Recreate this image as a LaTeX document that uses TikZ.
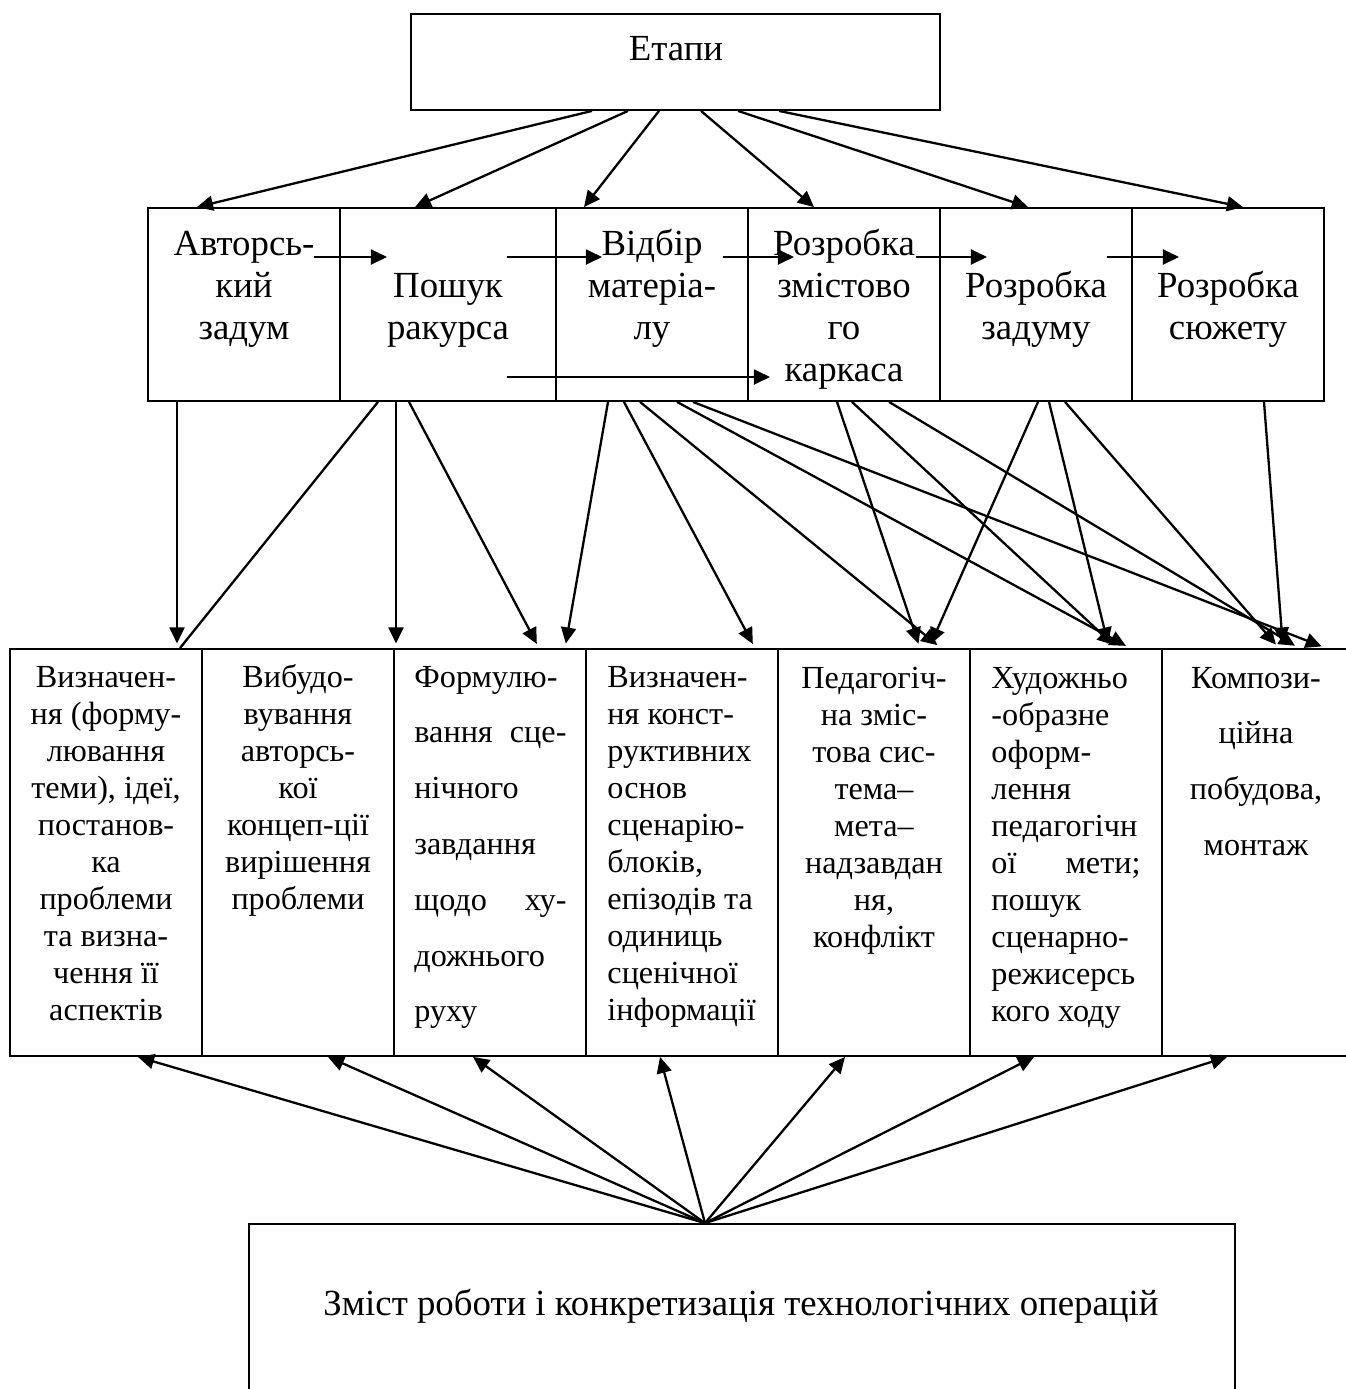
\documentclass[tikz,border=0pt]{standalone}
\usepackage{fontspec}
\setmainfont{Liberation Serif}
\usetikzlibrary{arrows.meta,fit}
\begin{document}
\begin{tikzpicture}[x=0.4348pt,y=-0.4348pt,
  cell/.style={draw,line width=0.8pt,inner sep=0pt},
  arr/.style={line width=1pt,-{Triangle[length=7pt,width=6.5pt]}},
  ln/.style={line width=1pt},
  small/.style={font=\fontsize{14}{16}\selectfont,inner sep=0pt},
  big/.style={font=\fontsize{16}{18}\selectfont,inner sep=0pt}]
\useasboundingbox (0,0) rectangle (1346,1389);
\clip (0,0) rectangle (1346,1389);
\fill[white] (0,0) rectangle (1346,1389);

% ---------- boxes ----------
\node[cell,fit={(411,14)(940,110)}] (etapi) {};
\node[cell,fit={(148,208)(340,401)}] (m1) {};
\node[cell,fit={(340,208)(556,401)}] (m2) {};
\node[cell,fit={(556,208)(748,401)}] (m3) {};
\node[cell,fit={(748,208)(940,401)}] (m4) {};
\node[cell,fit={(940,208)(1132,401)}] (m5) {};
\node[cell,fit={(1132,208)(1324,401)}] (m6) {};
\node[cell,fit={(10,649)(202,1056)}] (b1) {};
\node[cell,fit={(202,649)(394,1056)}] (b2) {};
\node[cell,fit={(394,649)(586,1056)}] (b3) {};
\node[cell,fit={(586,649)(778,1056)}] (b4) {};
\node[cell,fit={(778,649)(970,1056)}] (b5) {};
\node[cell,fit={(970,649)(1162,1056)}] (b6) {};
\node[cell,fit={(1162,649)(1380,1056)}] (b7) {};
\node[cell,fit={(249,1224)(1235,1430)}] (bot) {};

% ---------- texts ----------
\node[big,anchor=base] (tetapi) at (676,60) {Етапи};
\node[big,anchor=base] (tbot) at (741,1315) {Зміст роботи і конкретизація технологічних операцій};

\foreach \t/\y [count=\i] in {Авторсь-/255, кий/297, задум/339}
  \node[big,anchor=base] (ma\i) at (244,\y) {\t};
\foreach \t/\y [count=\i] in {Пошук/297, ракурса/339}
  \node[big,anchor=base] (mb\i) at (448,\y) {\t};
\foreach \t/\y [count=\i] in {Відбір/255, матеріа-/297, лу/339}
  \node[big,anchor=base] (mc\i) at (652,\y) {\t};
\foreach \t/\y [count=\i] in {Розробка/255, змістово/297, го/339, каркаса/381}
  \node[big,anchor=base] (md\i) at (844,\y) {\t};
\foreach \t/\y [count=\i] in {Розробка/297, задуму/339}
  \node[big,anchor=base] (me\i) at (1036,\y) {\t};
\foreach \t/\y [count=\i] in {Розробка/297, сюжету/339}
  \node[big,anchor=base] (mf\i) at (1228,\y) {\t};

\foreach \t [count=\i from 0] in {Визначен-,{ня (форму-},лювання,{теми), ідеї,},постанов-,ка,проблеми,{та визна-},{чення її},аспектів}
  \node[small,anchor=base] (ba\i) at (106,{687+37*\i}) {\t};
\foreach \t [count=\i from 0] in {Вибудо-,вування,авторсь-,кої,концеп-ції,вирішення,проблеми}
  \node[small,anchor=base] (bb\i) at (298,{687+37*\i}) {\t};
\foreach \t [count=\i from 0] in {Формулю-,{\hbox to 66.1pt{вання\hfill сце-}},нічного,завдання,{\hbox to 66.1pt{щодо\hfill ху-}},дожнього,руху}
  \node[small,anchor=base west] (bc\i) at (414,{687+55.8*\i}) {\t};
\foreach \t [count=\i from 0] in {Визначен-,{ня конст-},руктивних,основ,сценарію-,{блоків,},{епізодів та},одиниць,сценічної,інформації}
  \node[small,anchor=base west] (bd\i) at (607,{687+37*\i}) {\t};
\foreach \t [count=\i from 0] in {Педагогіч-,{на зміс-},{това сис-},тема–,мета–,надзавдан,{ня,},конфлікт}
  \node[small,anchor=base] (be\i) at (874,{688+37*\i}) {\t};
\foreach \t [count=\i from 0] in {Художньо,-образне,оформ-,лення,педагогічн,{\hbox to 64.8pt{ої\hfill мети;}},пошук,сценарно-,режисерсь,{кого ходу}}
  \node[small,anchor=base west] (bf\i) at (991,{688+37*\i}) {\t};
\foreach \t [count=\i from 0] in {Компози-,ційна,{побудова,},монтаж}
  \node[small,anchor=base] (bg\i) at (1256,{688+55.7*\i}) {\t};

% ---------- arrows from Etapi ----------
\draw[arr] (etapi.south -| 592,0) -- (m1.north -| 197,0);
\draw[arr] (etapi.south -| 628,0) -- (m2.north -| 415,0);
\draw[arr] (etapi.south -| 659,0) -- (m3.north -| 584,0);
\draw[arr] (etapi.south -| 701,0) -- (m4.north -| 814,0);
\draw[arr] (etapi.south -| 738,0) -- (m5.north -| 1028,0);
\draw[arr] (etapi.south -| 779,0) -- (m6.north -| 1243,0);

% ---------- arrows inside the middle row ----------
\coordinate (h1s) at (314,257); \coordinate (h1e) at (387,257);
\coordinate (h2s) at (507,257); \coordinate (h2e) at (602,257);
\coordinate (h3s) at (723,257); \coordinate (h3e) at (794,257);
\coordinate (h4s) at (916,257); \coordinate (h4e) at (987,257);
\coordinate (h5s) at (1107,257); \coordinate (h5e) at (1179,257);
\coordinate (h6s) at (507,377); \coordinate (h6e) at (770,377);
\draw[arr] (h1s) -- (h1e);
\draw[arr] (h2s) -- (h2e);
\draw[arr] (h3s) -- (h3e);
\draw[arr] (h4s) -- (h4e);
\draw[arr] (h5s) -- (h5e);
\draw[arr] (h6s) -- (h6e);

% ---------- arrows from middle row to bottom row ----------
\begin{scope}[shorten >=2pt]
\draw[arr] (m1.south -| 177,0) -- (b1.north -| 177,0);
\draw[arr] (m2.south -| 396,0) -- (b2.north -| 396,0);
\draw[arr] (m2.south -| 409,0) -- (b3.north -| 539,0);
\draw[arr] (m3.south -| 608,0) -- (b3.north -| 565,0);
\draw[arr] (m3.south -| 624,0) -- (b4.north -| 755,0);
\draw[arr] (m3.south -| 640,0) -- (b5.north -| 941,0);
\draw[arr] (m3.south -| 677,0) -- (b6.north -| 1130,0);
\draw[arr] (m3.south -| 693,0) -- (b7.north -| 1326,0);
\draw[arr] (m4.south -| 837,0) -- (b5.north -| 920,0);
\draw[arr] (m4.south -| 852,0) -- (b6.north -| 1117,0);
\draw[arr] (m4.south -| 889,0) -- (b7.north -| 1299,0);
\draw[arr] (m5.south -| 1038,0) -- (b5.north -| 929,0);
\draw[arr] (m5.south -| 1049,0) -- (b6.north -| 1109,0);
\draw[arr] (m5.south -| 1065,0) -- (b7.north -| 1279,0);
\draw[arr] (m6.south -| 1264,0) -- (b7.north -| 1283,0);
\end{scope}
\draw[ln] (m2.south -| 378,0) -- (b1.north -| 180,0);

% ---------- arrows from bottom box ----------
\foreach \x [count=\i] in {138,328,473,660,845,1034,1227}
  \draw[arr] (bot.north -| 705,0) -- (b\i.south -| \x,0);
\end{tikzpicture}
\end{document}
